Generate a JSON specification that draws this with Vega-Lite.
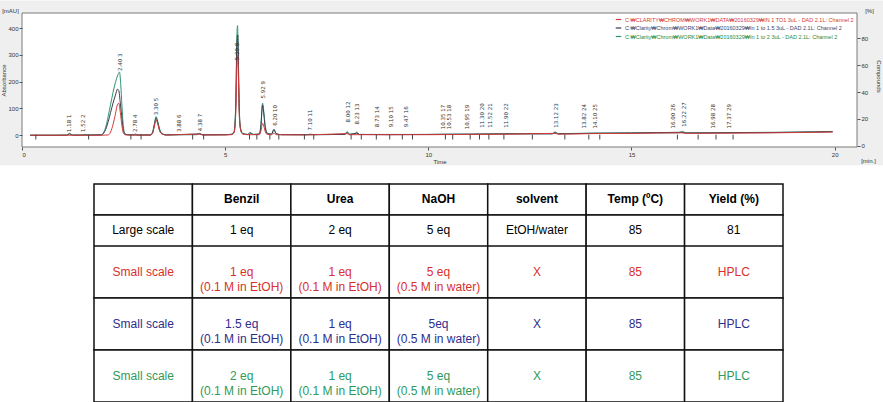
{
"$schema": "https://vega.github.io/schema/vega-lite/v6.json",
"padding": 0,
"background": "white",
"spacing": 0,
"resolve": {"scale": {"color": "independent"}, "legend": {"color": "independent"}},
"datasets": {
"trace": [
{"s":"G","t":0.2,"a":0},{"s":"G","t":0.8,"a":0},{"s":"G","t":1.1,"a":1},{"s":"G","t":1.17,"a":7},{"s":"G","t":1.24,"a":1},{"s":"G","t":1.5,"a":1},{"s":"G","t":1.55,"a":3},{"s":"G","t":1.6,"a":1},{"s":"G","t":1.95,"a":2},{"s":"G","t":2.0,"a":8},{"s":"G","t":2.06,"a":30},{"s":"G","t":2.12,"a":70},{"s":"G","t":2.18,"a":115},{"s":"G","t":2.24,"a":160},{"s":"G","t":2.3,"a":198},{"s":"G","t":2.35,"a":222},{"s":"G","t":2.4,"a":236},{"s":"G","t":2.43,"a":190},{"s":"G","t":2.46,"a":110},{"s":"G","t":2.49,"a":40},{"s":"G","t":2.53,"a":8},{"s":"G","t":2.6,"a":2},{"s":"G","t":2.75,"a":2},{"s":"G","t":2.79,"a":5},{"s":"G","t":2.85,"a":1},{"s":"G","t":3.15,"a":1},{"s":"G","t":3.21,"a":10},{"s":"G","t":3.26,"a":45},{"s":"G","t":3.3,"a":70},{"s":"G","t":3.34,"a":52},{"s":"G","t":3.39,"a":22},{"s":"G","t":3.45,"a":6},{"s":"G","t":3.55,"a":1},{"s":"G","t":4.3,"a":2},{"s":"G","t":4.37,"a":7},{"s":"G","t":4.45,"a":2},{"s":"G","t":5.0,"a":2},{"s":"G","t":5.15,"a":4},{"s":"G","t":5.22,"a":15},{"s":"G","t":5.26,"a":120},{"s":"G","t":5.29,"a":380},{"s":"G","t":5.305,"a":410},{"s":"G","t":5.32,"a":300},{"s":"G","t":5.34,"a":120},{"s":"G","t":5.37,"a":30},{"s":"G","t":5.42,"a":8},{"s":"G","t":5.55,"a":3},{"s":"G","t":5.65,"a":7},{"s":"G","t":5.7,"a":3},{"s":"G","t":5.84,"a":5},{"s":"G","t":5.88,"a":40},{"s":"G","t":5.92,"a":120},{"s":"G","t":5.95,"a":90},{"s":"G","t":5.99,"a":30},{"s":"G","t":6.04,"a":8},{"s":"G","t":6.14,"a":4},{"s":"G","t":6.2,"a":20},{"s":"G","t":6.26,"a":6},{"s":"G","t":6.4,"a":2},{"s":"G","t":7.0,"a":2},{"s":"G","t":7.1,"a":4},{"s":"G","t":7.2,"a":2},{"s":"G","t":7.95,"a":4},{"s":"G","t":8.0,"a":14},{"s":"G","t":8.06,"a":4},{"s":"G","t":8.18,"a":4},{"s":"G","t":8.24,"a":12},{"s":"G","t":8.3,"a":3},{"s":"G","t":9.0,"a":3},{"s":"G","t":10.0,"a":3},{"s":"G","t":10.4,"a":4},{"s":"G","t":11.0,"a":4},{"s":"G","t":11.5,"a":5},{"s":"G","t":12.5,"a":6},{"s":"G","t":13.05,"a":6},{"s":"G","t":13.12,"a":12},{"s":"G","t":13.2,"a":6},{"s":"G","t":14.0,"a":8},{"s":"G","t":15.0,"a":9},{"s":"G","t":16.15,"a":9},{"s":"G","t":16.25,"a":14},{"s":"G","t":16.35,"a":9},{"s":"G","t":17.5,"a":10},{"s":"G","t":18.5,"a":11},{"s":"G","t":19.5,"a":13},{"s":"G","t":19.95,"a":14},
{"s":"B","t":0.2,"a":0},{"s":"B","t":1.1,"a":0},{"s":"B","t":1.17,"a":5},{"s":"B","t":1.24,"a":0},{"s":"B","t":1.95,"a":1},{"s":"B","t":2.0,"a":6},{"s":"B","t":2.06,"a":22},{"s":"B","t":2.12,"a":50},{"s":"B","t":2.18,"a":85},{"s":"B","t":2.24,"a":120},{"s":"B","t":2.3,"a":150},{"s":"B","t":2.35,"a":172},{"s":"B","t":2.38,"a":168},{"s":"B","t":2.42,"a":120},{"s":"B","t":2.46,"a":60},{"s":"B","t":2.5,"a":15},{"s":"B","t":2.55,"a":3},{"s":"B","t":2.7,"a":1},{"s":"B","t":3.15,"a":1},{"s":"B","t":3.21,"a":8},{"s":"B","t":3.26,"a":40},{"s":"B","t":3.3,"a":64},{"s":"B","t":3.34,"a":48},{"s":"B","t":3.39,"a":18},{"s":"B","t":3.45,"a":5},{"s":"B","t":3.55,"a":1},{"s":"B","t":4.37,"a":5},{"s":"B","t":4.45,"a":1},{"s":"B","t":5.0,"a":2},{"s":"B","t":5.15,"a":3},{"s":"B","t":5.22,"a":12},{"s":"B","t":5.26,"a":100},{"s":"B","t":5.29,"a":340},{"s":"B","t":5.31,"a":375},{"s":"B","t":5.33,"a":240},{"s":"B","t":5.35,"a":90},{"s":"B","t":5.38,"a":25},{"s":"B","t":5.43,"a":6},{"s":"B","t":5.55,"a":3},{"s":"B","t":5.62,"a":10},{"s":"B","t":5.68,"a":3},{"s":"B","t":5.84,"a":4},{"s":"B","t":5.88,"a":35},{"s":"B","t":5.92,"a":112},{"s":"B","t":5.95,"a":80},{"s":"B","t":5.99,"a":25},{"s":"B","t":6.04,"a":6},{"s":"B","t":6.14,"a":4},{"s":"B","t":6.2,"a":22},{"s":"B","t":6.26,"a":5},{"s":"B","t":6.4,"a":2},{"s":"B","t":7.0,"a":2},{"s":"B","t":7.95,"a":3},{"s":"B","t":8.0,"a":10},{"s":"B","t":8.06,"a":3},{"s":"B","t":8.24,"a":8},{"s":"B","t":8.3,"a":3},{"s":"B","t":9.0,"a":2},{"s":"B","t":10.0,"a":3},{"s":"B","t":11.0,"a":4},{"s":"B","t":12.0,"a":5},{"s":"B","t":13.05,"a":5},{"s":"B","t":13.12,"a":10},{"s":"B","t":13.2,"a":5},{"s":"B","t":14.0,"a":7},{"s":"B","t":15.0,"a":8},{"s":"B","t":16.22,"a":11},{"s":"B","t":16.35,"a":8},{"s":"B","t":17.5,"a":9},{"s":"B","t":18.5,"a":10},{"s":"B","t":19.5,"a":12},{"s":"B","t":19.95,"a":13},
{"s":"R","t":0.2,"a":0},{"s":"R","t":1.95,"a":0},{"s":"R","t":2.12,"a":1},{"s":"R","t":2.18,"a":12},{"s":"R","t":2.24,"a":40},{"s":"R","t":2.3,"a":80},{"s":"R","t":2.35,"a":115},{"s":"R","t":2.38,"a":120},{"s":"R","t":2.42,"a":85},{"s":"R","t":2.46,"a":35},{"s":"R","t":2.5,"a":6},{"s":"R","t":2.56,"a":1},{"s":"R","t":3.15,"a":0},{"s":"R","t":3.21,"a":6},{"s":"R","t":3.26,"a":35},{"s":"R","t":3.3,"a":58},{"s":"R","t":3.34,"a":42},{"s":"R","t":3.39,"a":15},{"s":"R","t":3.45,"a":4},{"s":"R","t":3.55,"a":1},{"s":"R","t":4.37,"a":4},{"s":"R","t":4.45,"a":1},{"s":"R","t":5.0,"a":1},{"s":"R","t":5.15,"a":2},{"s":"R","t":5.22,"a":10},{"s":"R","t":5.26,"a":80},{"s":"R","t":5.29,"a":270},{"s":"R","t":5.31,"a":300},{"s":"R","t":5.33,"a":190},{"s":"R","t":5.35,"a":70},{"s":"R","t":5.38,"a":20},{"s":"R","t":5.43,"a":5},{"s":"R","t":5.55,"a":2},{"s":"R","t":5.84,"a":2},{"s":"R","t":5.88,"a":15},{"s":"R","t":5.92,"a":45},{"s":"R","t":5.95,"a":35},{"s":"R","t":5.99,"a":12},{"s":"R","t":6.04,"a":3},{"s":"R","t":6.14,"a":2},{"s":"R","t":6.2,"a":8},{"s":"R","t":6.26,"a":2},{"s":"R","t":7.0,"a":1},{"s":"R","t":8.0,"a":6},{"s":"R","t":8.06,"a":2},{"s":"R","t":9.0,"a":2},{"s":"R","t":10.0,"a":2},{"s":"R","t":11.0,"a":3},{"s":"R","t":12.0,"a":4},{"s":"R","t":13.12,"a":7},{"s":"R","t":13.2,"a":4},{"s":"R","t":14.0,"a":6},{"s":"R","t":15.0,"a":7},{"s":"R","t":16.22,"a":9},{"s":"R","t":16.35,"a":7},{"s":"R","t":17.5,"a":8},{"s":"R","t":18.5,"a":9},{"s":"R","t":19.5,"a":11},{"s":"R","t":19.95,"a":12}
],
"peaks": [
{"t":1.16,"lab":"1.18     1","ly":12},{"t":1.51,"lab":"1.52     2","ly":12},{"t":2.4,"lab":"2.40     3","ly":240},{"t":2.77,"lab":"2.78     4","ly":12},{"t":3.29,"lab":"3.30     5","ly":75},{"t":3.87,"lab":"3.88     6","ly":12},{"t":4.37,"lab":"4.38     7","ly":15},{"t":5.3,"lab":"5.30     8","ly":280},{"t":5.93,"lab":"5.92     9","ly":137},{"t":6.22,"lab":"6.20     10","ly":35},{"t":7.1,"lab":"7.10     11","ly":18},{"t":8.02,"lab":"8.00     12","ly":48},{"t":8.24,"lab":"8.23     13","ly":40},{"t":8.73,"lab":"8.73     14","ly":30},{"t":9.09,"lab":"9.10     15","ly":30},{"t":9.46,"lab":"9.47     16","ly":30},{"t":10.36,"lab":"10.35     17","ly":22},{"t":10.52,"lab":"10.53     18","ly":22},{"t":10.94,"lab":"10.95     19","ly":22},{"t":11.31,"lab":"11.30     20","ly":28},{"t":11.53,"lab":"11.52     21","ly":28},{"t":11.92,"lab":"11.90     22","ly":28},{"t":13.13,"lab":"13.12     23","ly":28},{"t":13.82,"lab":"13.82     24","ly":25},{"t":14.1,"lab":"14.10     25","ly":25},{"t":16.02,"lab":"16.00     26","ly":25},{"t":16.3,"lab":"16.22     27","ly":32},{"t":17.0,"lab":"16.98     28","ly":25},{"t":17.4,"lab":"17.37     29","ly":25}
],
"marks": [
{"t":0.34},{"t":1.64},{"t":2.68},{"t":2.93},{"t":4.2},{"t":4.47},{"t":5.6},{"t":5.78},{"t":6.1},{"t":6.32},{"t":6.95},{"t":7.18},{"t":8.1},{"t":8.35},{"t":8.72},{"t":9.05},{"t":9.36},{"t":9.61},{"t":10.42},{"t":10.6},{"t":11.03},{"t":11.26},{"t":11.49},{"t":11.86},{"t":12.56},{"t":13.36},{"t":13.95},{"t":14.22},{"t":16.13},{"t":16.64},{"t":17.08},{"t":17.5}
],
"tblA": [
{"row":"header","col":"c0","txt":""},{"row":"header","col":"c1","txt":"Benzil"},{"row":"header","col":"c2","txt":"Urea"},{"row":"header","col":"c3","txt":"NaOH"},{"row":"header","col":"c4","txt":"solvent"},{"row":"header","col":"c5","txt":"Temp (ºC)"},{"row":"header","col":"c6","txt":"Yield (%)"},
{"row":"large","col":"c0","txt":"Large scale"},{"row":"large","col":"c1","txt":"1 eq"},{"row":"large","col":"c2","txt":"2 eq"},{"row":"large","col":"c3","txt":"5 eq"},{"row":"large","col":"c4","txt":"EtOH/water"},{"row":"large","col":"c5","txt":"85"},{"row":"large","col":"c6","txt":"81"}
],
"tblB": [
{"row":"r","col":"c0","txt":"Small scale"},{"row":"r","col":"c1","txt":"1 eq\n(0.1 M in EtOH)"},{"row":"r","col":"c2","txt":"1 eq\n(0.1 M in EtOH)"},{"row":"r","col":"c3","txt":"5 eq\n(0.5 M in water)"},{"row":"r","col":"c4","txt":"X"},{"row":"r","col":"c5","txt":"85"},{"row":"r","col":"c6","txt":"HPLC"},
{"row":"b","col":"c0","txt":"Small scale"},{"row":"b","col":"c1","txt":"1.5 eq\n(0.1 M in EtOH)"},{"row":"b","col":"c2","txt":"1 eq\n(0.1 M in EtOH)"},{"row":"b","col":"c3","txt":"5eq\n(0.5 M in water)"},{"row":"b","col":"c4","txt":"X"},{"row":"b","col":"c5","txt":"85"},{"row":"b","col":"c6","txt":"HPLC"},
{"row":"g","col":"c0","txt":"Small scale"},{"row":"g","col":"c1","txt":"2 eq\n(0.1 M in EtOH)"},{"row":"g","col":"c2","txt":"1 eq\n(0.1 M in EtOH)"},{"row":"g","col":"c3","txt":"5 eq\n(0.5 M in water)"},{"row":"g","col":"c4","txt":"X"},{"row":"g","col":"c5","txt":"85"},{"row":"g","col":"c6","txt":"HPLC"}
]
},
"vconcat": [
{
"width": 835,
"height": 134,
"view": {"fill": "white", "stroke": null},
"layer": [
{
"data": {"values": [{}]},
"mark": {"type": "rect", "color": "#eeefee"},
"encoding": {
"x": {"datum": -0.54, "type": "quantitative", "scale": {"domain": [0, 20.55], "nice": false, "zero": false}, "axis": null},
"x2": {"datum": 21.19},
"y": {"datum": 504, "type": "quantitative", "scale": {"domain": [-44, 457], "nice": false, "zero": false}, "axis": null},
"y2": {"datum": -112}
}
},
{
"data": {"values": [{}]},
"mark": {"type": "rect", "fill": "white", "stroke": "#7a7a7a", "strokeWidth": 1},
"encoding": {
"x": {"datum": 0, "type": "quantitative", "axis": null},
"x2": {"datum": 20.55},
"y": {"datum": 457, "type": "quantitative", "scale": {"domain": [-44, 457], "nice": false, "zero": false}, "axis": null},
"y2": {"datum": -44}
}
},
{
"data": {"name": "trace"},
"mark": {"type": "line", "strokeWidth": 1, "interpolate": "monotone"},
"encoding": {
"x": {"field": "t", "type": "quantitative", "axis": {"zindex": 1, "orient": "bottom", "title": "Time", "values": [0, 5, 10, 15, 20], "labelPadding": 1, "titlePadding": 1}},
"y": {"field": "a", "type": "quantitative", "scale": {"domain": [-44, 457], "nice": false, "zero": false}, "axis": {"zindex": 1, "orient": "left", "title": "Absorbance", "values": [0, 100, 200, 300, 400], "labelPadding": 1, "titlePadding": 1}},
"color": {"field": "s", "type": "nominal", "scale": {"domain": ["R", "B", "G"], "range": ["#d23a3a", "#3a3a4e", "#2e9470"]},
"legend": {"orient": "top-right", "title": null, "offset": 3, "padding": 0, "labelFontSize": 5.5, "labelFont": "Liberation Sans", "symbolType": "stroke", "symbolSize": 30, "symbolStrokeWidth": 1.2, "rowPadding": 1.5, "labelLimit": 400, "labelOffset": 3,
"labelExpr": "datum.value == 'R' ? 'C:₩CLARITY₩CHROM₩WORK1₩DATA₩20160329₩IN 1 TO1 3uL - DAD 2.1L: Channel 2' : datum.value == 'B' ? 'C:₩Clarity₩Chrom₩WORK1₩Data₩20160329₩In 1 to 1.5 3uL - DAD 2.1L: Channel 2' : 'C:₩Clarity₩Chrom₩WORK1₩Data₩20160329₩In 1 to 2 3uL - DAD 2.1L: Channel 2'",
"encode": {"labels": {"update": {"fill": {"signal": "datum.value == 'R' ? '#d23a3a' : datum.value == 'B' ? '#3c3f6e' : '#1f8a3a'"}}}}}}
}
},
{
"data": {"name": "peaks"},
"mark": {"type": "text", "angle": 270, "align": "left", "baseline": "middle", "fontSize": 5.5, "font": "DejaVu Sans", "color": "#333333"},
"encoding": {
"x": {"field": "t", "type": "quantitative", "axis": {"zindex": 1, "orient": "bottom", "title": "[min.]", "labels": false, "ticks": false, "domain": false, "grid": false, "titleX": 846, "titleY": 13, "titleAlign": "center", "titleBaseline": "middle"}},
"y": {"field": "ly", "type": "quantitative", "scale": {"domain": [-44, 457], "nice": false, "zero": false}, "axis": {"zindex": 1, "orient": "left", "title": "[mAU]", "labels": false, "ticks": false, "domain": false, "grid": false, "titleAngle": 0, "titleX": -12, "titleY": -3, "titleAlign": "center", "titleBaseline": "middle"}},
"text": {"field": "lab"}
}
},
{
"data": {"name": "marks"},
"mark": {"type": "rule", "strokeWidth": 1, "color": "#444444"},
"encoding": {
"x": {"field": "t", "type": "quantitative", "axis": null},
"y": {"datum": 2, "type": "quantitative", "scale": {"domain": [-44, 457], "nice": false, "zero": false}, "axis": null},
"y2": {"datum": -16}
}
},
{
"data": {"name": "marks"},
"mark": {"type": "point", "opacity": 0},
"encoding": {
"x": {"field": "t", "type": "quantitative", "axis": null},
"y": {"datum": 0, "type": "quantitative", "scale": {"domain": [-1, 99], "nice": false, "zero": false}, "axis": {"zindex": 1, "orient": "right", "values": [0, 20, 40, 60, 80], "title": "Compounds", "labelPadding": 1, "titleAngle": 90, "titleX": 21, "titleY": 63, "titleAlign": "center", "titleBaseline": "middle"}}
}
},
{
"data": {"name": "marks"},
"mark": {"type": "point", "opacity": 0},
"encoding": {
"x": {"field": "t", "type": "quantitative", "axis": null},
"y": {"datum": 0, "type": "quantitative", "scale": {"domain": [-1, 99], "nice": false, "zero": false}, "axis": {"zindex": 1, "orient": "right", "labels": false, "ticks": false, "domain": false, "grid": false, "title": "[%]", "titleAngle": 0, "titleX": 12, "titleY": -3, "titleAlign": "center", "titleBaseline": "middle"}}
}
}
],
"resolve": {"scale": {"y": "independent"}, "axis": {"x": "independent", "y": "independent"}}
},
{
"width": 861,
"height": 80,
"view": {"fill": "white", "stroke": null},
"data": {"name": "tblA"},
"encoding": {
"x": {"field": "col", "type": "nominal", "scale": {"domain": ["c0", "c1", "c2", "c3", "c4", "c5", "c6"], "paddingInner": 0, "paddingOuter": 0.8737, "align": 0.4186}, "axis": null},
"y": {"field": "row", "type": "nominal", "scale": {"domain": ["header", "large"], "paddingInner": 0, "paddingOuter": 0.29, "align": 1}, "axis": null}
},
"layer": [
{"mark": {"type": "rect", "fill": "white", "stroke": "#111111", "strokeWidth": 1.5, "clip": true}},
{"transform": [{"filter": "datum.row == 'header'"}], "mark": {"type": "text", "fontSize": 12, "fontWeight": "bold", "font": "Liberation Sans", "color": "#000000"}, "encoding": {"text": {"field": "txt"}}},
{"transform": [{"filter": "datum.row != 'header'"}], "mark": {"type": "text", "fontSize": 12, "font": "Liberation Sans", "color": "#000000"}, "encoding": {"text": {"field": "txt"}}}
]
},
{
"width": 861,
"height": 156,
"view": {"fill": "white", "stroke": null},
"data": {"name": "tblB"},
"encoding": {
"x": {"field": "col", "type": "nominal", "scale": {"domain": ["c0", "c1", "c2", "c3", "c4", "c5", "c6"], "paddingInner": 0, "paddingOuter": 0.8737, "align": 0.4186}, "axis": null},
"y": {"field": "row", "type": "nominal", "scale": {"domain": ["r", "b", "g"], "paddingInner": 0, "paddingOuter": 0}, "axis": null}
},
"layer": [
{"mark": {"type": "rect", "fill": "white", "stroke": "#111111", "strokeWidth": 1.5, "clip": true}},
{"mark": {"type": "text", "fontSize": 12, "font": "Liberation Sans", "lineBreak": "\n", "lineHeight": 15},
"encoding": {"text": {"field": "txt"}, "color": {"field": "row", "type": "nominal", "scale": {"domain": ["r", "b", "g"], "range": ["#d8302c", "#2e2e8c", "#2f9a5a"]}, "legend": null}}}
]
}
],
"config": {
"font": "Liberation Sans",
"axis": {"labelFontSize": 6, "titleFontSize": 6, "labelFont": "Liberation Sans", "titleFont": "Liberation Sans", "labelColor": "#333333", "titleColor": "#333333", "titleFontWeight": "normal", "tickColor": "#555555", "tickSize": 3, "domain": false, "grid": false}
}
}
